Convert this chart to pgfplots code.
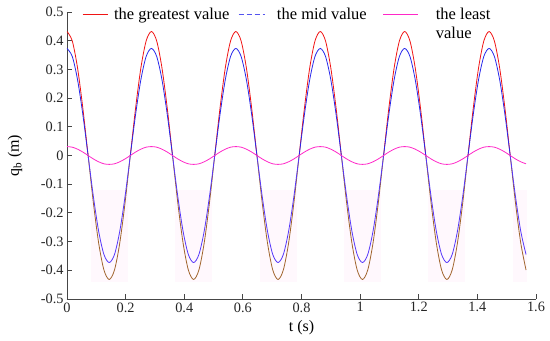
\documentclass[border=0pt]{standalone}
\usepackage{fontspec}
\setmainfont{Liberation Serif}
\usepackage{pgfplots}
\usepackage{pgfplotstable}
\pgfplotsset{compat=1.18}
\definecolor{cred}{RGB}{240,20,20}
\definecolor{cbrown}{RGB}{160,100,45}
\definecolor{cblue}{RGB}{40,40,235}
\definecolor{cviolet}{RGB}{85,55,250}
\definecolor{cmag}{RGB}{255,40,200}
\definecolor{cpink}{RGB}{255,248,253}
\definecolor{axgray}{RGB}{70,70,70}
\pgfplotstableread{
t r b m
0.000 0.432 0.373 0.031
0.018 0.399 0.345 0.029
0.036 0.305 0.264 0.022
0.054 0.165 0.143 0.012
0.072 0 0 0
0.090 -0.165 -0.143 -0.012
0.108 -0.305 -0.264 -0.022
0.126 -0.399 -0.345 -0.029
0.144 -0.432 -0.373 -0.031
0.162 -0.399 -0.345 -0.029
0.180 -0.305 -0.264 -0.022
0.198 -0.165 -0.143 -0.012
0.216 0 0 0
0.234 0.165 0.143 0.012
0.252 0.305 0.264 0.022
0.270 0.399 0.345 0.029
0.288 0.432 0.373 0.031
0.306 0.399 0.345 0.029
0.324 0.305 0.264 0.022
0.342 0.165 0.143 0.012
0.360 0 0 0
0.378 -0.165 -0.143 -0.012
0.396 -0.305 -0.264 -0.022
0.414 -0.399 -0.345 -0.029
0.432 -0.432 -0.373 -0.031
0.450 -0.399 -0.345 -0.029
0.468 -0.305 -0.264 -0.022
0.486 -0.165 -0.143 -0.012
0.504 0 0 0
0.522 0.165 0.143 0.012
0.540 0.305 0.264 0.022
0.558 0.399 0.345 0.029
0.576 0.432 0.373 0.031
0.594 0.399 0.345 0.029
0.612 0.305 0.264 0.022
0.630 0.165 0.143 0.012
0.648 0 0 0
0.666 -0.165 -0.143 -0.012
0.684 -0.305 -0.264 -0.022
0.702 -0.399 -0.345 -0.029
0.720 -0.432 -0.373 -0.031
0.738 -0.399 -0.345 -0.029
0.756 -0.305 -0.264 -0.022
0.774 -0.165 -0.143 -0.012
0.792 0 0 0
0.810 0.165 0.143 0.012
0.828 0.305 0.264 0.022
0.846 0.399 0.345 0.029
0.864 0.432 0.373 0.031
0.882 0.399 0.345 0.029
0.900 0.305 0.264 0.022
0.918 0.165 0.143 0.012
0.936 0 0 0
0.954 -0.165 -0.143 -0.012
0.972 -0.305 -0.264 -0.022
0.990 -0.399 -0.345 -0.029
1.008 -0.432 -0.373 -0.031
1.026 -0.399 -0.345 -0.029
1.044 -0.305 -0.264 -0.022
1.062 -0.165 -0.143 -0.012
1.080 0 0 0
1.098 0.165 0.143 0.012
1.116 0.305 0.264 0.022
1.134 0.399 0.345 0.029
1.152 0.432 0.373 0.031
1.170 0.399 0.345 0.029
1.188 0.305 0.264 0.022
1.206 0.165 0.143 0.012
1.224 0 0 0
1.242 -0.165 -0.143 -0.012
1.260 -0.305 -0.264 -0.022
1.278 -0.399 -0.345 -0.029
1.296 -0.432 -0.373 -0.031
1.314 -0.399 -0.345 -0.029
1.332 -0.305 -0.264 -0.022
1.350 -0.165 -0.143 -0.012
1.368 0 0 0
1.386 0.165 0.143 0.012
1.404 0.305 0.264 0.022
1.422 0.399 0.345 0.029
1.440 0.432 0.373 0.031
1.458 0.399 0.345 0.029
1.476 0.305 0.264 0.022
1.494 0.165 0.143 0.012
1.512 0 0 0
1.530 -0.165 -0.143 -0.012
1.548 -0.305 -0.264 -0.022
1.566 -0.399 -0.345 -0.029
}\data
\begin{document}
\begin{tikzpicture}
\begin{axis}[
  scale only axis,
  width=469bp, height=287bp,
  xmin=0, xmax=1.6, ymin=-0.5, ymax=0.5,
  axis x line=bottom, axis y line=left,
  axis line style={-, axgray, line width=0.8bp},
  tick style={axgray, line width=0.8bp},
  tick align=inside,
  major tick length=5bp,
  xtick={0,0.2,...,1.6},
  ytick={-0.5,-0.4,...,0.5},
  /pgf/number format/assume math mode=true,
  /pgf/number format/fixed,
  /pgf/number format/precision=1,
  tick label style={font=\fontsize{14.3bp}{17bp}\selectfont, text=black!85},
  label style={font=\fontsize{16bp}{19bp}\selectfont},
  xlabel={t (s)},
  ylabel={q\textsubscript{b} (m)},
  xlabel style={at={(axis description cs:0.5,0)}, anchor=center, yshift=-29bp},
  ylabel style={at={(axis description cs:0,0.5)}, anchor=center, yshift=52bp},
  legend columns=3,
  legend style={draw=none, fill=none, at={(axis description cs:0,1)}, anchor=north west, xshift=15bp, yshift=8bp,
    inner xsep=0pt, column sep=0pt, nodes={inner xsep=0pt},
    font=\fontsize{16.5bp}{17bp}\selectfont},
  legend cell align=left,
  clip=false,
]
\addlegendimage{legend image code/.code={\draw[cred, line width=0.9bp] (0cm,0cm) -- (25bp,0cm);}}
\addlegendentry{\makebox[130bp][l]{\hspace{6bp}the greatest value}}
\addlegendimage{legend image code/.code={\draw[cblue!80!white, dash pattern=on 5bp off 3bp, line width=0.9bp] (0cm,0cm) -- (26bp,0cm);}}
\addlegendentry{\makebox[118bp][l]{\hspace{12bp}the mid value}}
\addlegendimage{legend image code/.code={\draw[cmag, line width=0.9bp] (0cm,0cm) -- (35bp,0cm);}}
\addlegendentry{\hspace{17bp}\parbox[t]{60bp}{\baselineskip=18.5bp the least\\value}}
% faint shading around the troughs
\addplot[fill=cpink, draw=none] coordinates {(0.081,-0.12) (0.207,-0.12) (0.207,-0.44) (0.081,-0.44)} -- cycle;
\addplot[fill=cpink, draw=none] coordinates {(0.369,-0.12) (0.495,-0.12) (0.495,-0.44) (0.369,-0.44)} -- cycle;
\addplot[fill=cpink, draw=none] coordinates {(0.657,-0.12) (0.783,-0.12) (0.783,-0.44) (0.657,-0.44)} -- cycle;
\addplot[fill=cpink, draw=none] coordinates {(0.945,-0.12) (1.071,-0.12) (1.071,-0.44) (0.945,-0.44)} -- cycle;
\addplot[fill=cpink, draw=none] coordinates {(1.233,-0.12) (1.359,-0.12) (1.359,-0.44) (1.233,-0.44)} -- cycle;
\addplot[fill=cpink, draw=none] coordinates {(1.521,-0.12) (1.570,-0.12) (1.570,-0.44) (1.521,-0.44)} -- cycle;
\begin{scope}
\clip (axis cs:0,0) rectangle (axis cs:1.6,0.55);
\addplot[cred, line width=0.8bp, smooth] table[x=t, y=r] {\data};
\addplot[cblue, line width=0.8bp, smooth] table[x=t, y=b] {\data};
\end{scope}
\begin{scope}
\clip (axis cs:0,-0.55) rectangle (axis cs:1.6,0);
\addplot[cbrown, line width=0.8bp, smooth] table[x=t, y=r] {\data};
\addplot[cviolet, line width=0.8bp, smooth] table[x=t, y=b] {\data};
\end{scope}
\addplot[cmag, line width=0.8bp, smooth] table[x=t, y=m] {\data};
\end{axis}
\pgfresetboundingbox
\path (current axis.south west) ++(-67bp,-42bp) rectangle ([shift={(14bp,12bp)}]current axis.north east);
\end{tikzpicture}
\end{document}
